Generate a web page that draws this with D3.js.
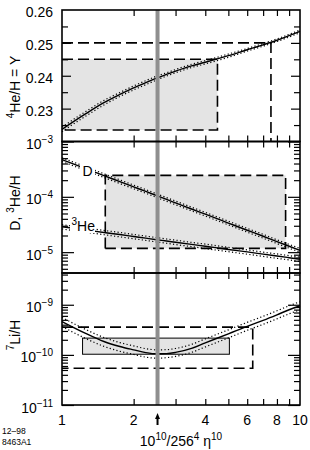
<!DOCTYPE html>
<html>
<head>
<meta charset="utf-8">
<script src="https://cdn.jsdelivr.net/npm/d3@7"></script>
<style>
body { margin: 0; background: #fff; }
svg { display: block; font-family: "Liberation Sans", Arial, sans-serif; }
.tk path { display: none; }
.tk line { stroke: #000; stroke-width: 1.2; }
</style>
</head>
<body>
<div id="chart"></div>
<script>
// eta grid shared by all curves
const etaGrid = [1, 1.25, 1.5, 1.75, 2, 2.25, 2.5, 2.75, 3, 3.5, 4, 5, 6, 7, 8, 9, 10];

// 4He mass fraction Y
const he4Y   = [0.2237, 0.2283, 0.2318, 0.2343, 0.2363, 0.2379, 0.2393, 0.2404, 0.2414, 0.2430, 0.2441, 0.2461, 0.2479, 0.2494, 0.2508, 0.2522, 0.2535];
const he4Hi  = [0.2244, 0.2290, 0.2325, 0.2349, 0.2369, 0.2385, 0.2399, 0.2409, 0.2419, 0.2435, 0.2446, 0.2466, 0.2483, 0.2498, 0.2512, 0.2526, 0.2539];
const he4Lo  = [0.2230, 0.2276, 0.2311, 0.2337, 0.2357, 0.2373, 0.2387, 0.2399, 0.2409, 0.2425, 0.2436, 0.2456, 0.2475, 0.2490, 0.2504, 0.2518, 0.2531];

// D/H
const dH   = [4.71e-4, 3.27e-4, 2.42e-4, 1.88e-4, 1.51e-4, 1.25e-4, 1.05e-4, 8.96e-5, 7.77e-5, 6.03e-5, 4.85e-5, 3.36e-5, 2.49e-5, 1.94e-5, 1.55e-5, 1.28e-5, 1.08e-5];
const dHi  = [5.09e-4, 3.53e-4, 2.61e-4, 2.03e-4, 1.63e-4, 1.35e-4, 1.13e-4, 9.68e-5, 8.39e-5, 6.51e-5, 5.24e-5, 3.63e-5, 2.69e-5, 2.10e-5, 1.67e-5, 1.38e-5, 1.17e-5];
const dLo  = [4.36e-4, 3.02e-4, 2.24e-4, 1.74e-4, 1.40e-4, 1.16e-4, 9.71e-5, 8.29e-5, 7.19e-5, 5.58e-5, 4.49e-5, 3.11e-5, 2.30e-5, 1.79e-5, 1.43e-5, 1.18e-5, 1.00e-5];

// 3He/H
const he3  = [2.88e-5, 2.53e-5, 2.27e-5, 2.08e-5, 1.92e-5, 1.79e-5, 1.68e-5, 1.59e-5, 1.51e-5, 1.38e-5, 1.28e-5, 1.12e-5, 1.01e-5, 9.20e-6, 8.51e-6, 7.94e-6, 7.46e-6];
const he3Hi = [3.14e-5, 2.76e-5, 2.47e-5, 2.27e-5, 2.09e-5, 1.95e-5, 1.83e-5, 1.73e-5, 1.65e-5, 1.50e-5, 1.40e-5, 1.22e-5, 1.10e-5, 1.00e-5, 9.28e-6, 8.65e-6, 8.13e-6];
const he3Lo = [2.62e-5, 2.30e-5, 2.07e-5, 1.89e-5, 1.75e-5, 1.63e-5, 1.53e-5, 1.45e-5, 1.37e-5, 1.26e-5, 1.16e-5, 1.02e-5, 9.19e-6, 8.37e-6, 7.74e-6, 7.23e-6, 6.79e-6];

// 7Li/H
const li7   = [4.63e-10, 2.72e-10, 1.85e-10, 1.47e-10, 1.26e-10, 1.11e-10, 1.05e-10, 1.06e-10, 1.12e-10, 1.35e-10, 1.74e-10, 2.63e-10, 3.72e-10, 4.90e-10, 6.31e-10, 7.94e-10, 9.55e-10];
const li7Hi = [5.56e-10, 3.26e-10, 2.22e-10, 1.76e-10, 1.51e-10, 1.33e-10, 1.26e-10, 1.27e-10, 1.34e-10, 1.62e-10, 2.09e-10, 3.16e-10, 4.46e-10, 5.88e-10, 7.57e-10, 9.53e-10, 1.15e-9];
const li7Lo = [3.70e-10, 2.15e-10, 1.48e-10, 1.18e-10, 1.02e-10, 9.0e-11, 8.6e-11, 8.8e-11, 9.3e-11, 1.12e-10, 1.44e-10, 2.18e-10, 3.09e-10, 4.07e-10, 5.24e-10, 6.59e-10, 7.93e-10];

// observational boxes / limits
const he4BoxEta = [1, 4.5], he4BoxY = [0.2235, 0.245];
const he4LimEta = 7.55, he4LimY = 0.25;
const dBoxEta = [1.52, 8.7], dBoxY = [1.17e-5, 2.44e-4];
const liBoxEta = [1.22, 5.05], liBoxY = [1.03e-10, 2.16e-10];
const liLimEta = 6.33, liLimY = [5.42e-11, 3.58e-10];

const etaMark = 2.52;
const xTickLabels = [1, 2, 4, 6, 8, 10];
const xMinor = [2, 3, 4, 5, 6, 7, 8, 9];
const topLabels = [0.23, 0.24, 0.25, 0.26];
const topMajor = [0.23, 0.24, 0.25];
const topMinor = [0.225, 0.235, 0.245, 0.255];
const midExps = [-3, -4, -5];
const botExps = [-9, -10, -11];

const W = 310, H = 450;
const L = 62, R = 300;
const svg = d3.select('#chart').append('svg').attr('width', W).attr('height', H);

const x = d3.scaleLog().domain([1, 10]).range([L, R]);
const yTop = d3.scaleLinear().domain([0.22, 0.26]).range([141.5, 10]);
const yMid = d3.scaleLog().domain([4.2e-6, 1e-3]).range([273, 141.5]);
const yBot = d3.scaleLog().domain([1e-11, 4.3e-9]).range([405, 273]);

const logMinor = (scale) => {
    const [a, b] = scale.domain();
    const out = [];
    for (let e = Math.floor(Math.log10(a)); e <= Math.ceil(Math.log10(b)); e++) {
        for (let m = 2; m <= 9; m++) {
            const v = m * Math.pow(10, e);
            if (v > a && v < b) out.push(v);
        }
    }
    return out;
};
const logMajor = (scale) => {
    const [a, b] = scale.domain();
    const out = [];
    for (let e = Math.ceil(Math.log10(a)); e <= Math.floor(Math.log10(b)); e++) out.push(Math.pow(10, e));
    return out;
};

const fills = svg.append('g');
const lines = svg.append('g');
const over = svg.append('g');

const dash = (pts, y) => lines.append('path')
    .attr('d', d3.line().x(p => x(p[0])).y(p => y(p[1]))(pts))
    .attr('fill', 'none').attr('stroke', '#000')
    .attr('stroke-width', 1.6).attr('stroke-dasharray', '11,5');

const curve = (vals, y, kind) => lines.append('path')
    .datum(vals)
    .attr('d', d3.line().x((d, i) => x(etaGrid[i])).y(d => y(d)).curve(d3.curveMonotoneX))
    .attr('fill', 'none').attr('stroke', '#000')
    .attr('stroke-width', kind === 'dot' ? 1.2 : 1.4)
    .attr('stroke-dasharray', kind === 'dot' ? '1.2,2.3' : null);

// ---- top panel: 4He
fills.append('rect')
    .attr('x', x(he4BoxEta[0])).attr('y', yTop(he4BoxY[1]))
    .attr('width', x(he4BoxEta[1]) - x(he4BoxEta[0]))
    .attr('height', yTop(he4BoxY[0]) - yTop(he4BoxY[1]))
    .attr('fill', '#e4e4e4');
dash([[1, he4LimY], [he4LimEta, he4LimY], [he4LimEta, 0.22]], yTop);
dash([[1, he4BoxY[1]], [he4BoxEta[1], he4BoxY[1]], [he4BoxEta[1], he4BoxY[0]], [1, he4BoxY[0]]], yTop);
curve(he4Hi, yTop, 'dot');
curve(he4Lo, yTop, 'dot');
curve(he4Y, yTop, 'solid');

// ---- middle panel: D and 3He
fills.append('rect')
    .attr('x', x(dBoxEta[0])).attr('y', yMid(dBoxY[1]))
    .attr('width', x(dBoxEta[1]) - x(dBoxEta[0]))
    .attr('height', yMid(dBoxY[0]) - yMid(dBoxY[1]))
    .attr('fill', '#e4e4e4');
dash([[dBoxEta[0], dBoxY[0]], [dBoxEta[0], dBoxY[1]], [dBoxEta[1], dBoxY[1]], [dBoxEta[1], dBoxY[0]], [dBoxEta[0], dBoxY[0]]], yMid);
[dHi, dLo, he3Hi, he3Lo].forEach(v => curve(v, yMid, 'dot'));
curve(dH, yMid, 'solid');
curve(he3, yMid, 'solid');

// ---- bottom panel: 7Li
fills.append('rect')
    .attr('x', x(liBoxEta[0])).attr('y', yBot(liBoxY[1]))
    .attr('width', x(liBoxEta[1]) - x(liBoxEta[0]))
    .attr('height', yBot(liBoxY[0]) - yBot(liBoxY[1]))
    .attr('fill', '#e4e4e4').attr('stroke', '#000').attr('stroke-width', 1);
dash([[1, liLimY[1]], [liLimEta, liLimY[1]], [liLimEta, liLimY[0]], [1, liLimY[0]]], yBot);
curve(li7Hi, yBot, 'dot');
curve(li7Lo, yBot, 'dot');
curve(li7, yBot, 'solid');

// curve labels with a blank gap in the lines
over.append('rect').attr('x', 80).attr('y', 163).attr('width', 15).attr('height', 16).attr('fill', '#fff');
over.append('text').attr('x', 82.5).attr('y', 176).attr('font-size', 14).text('D');
over.append('rect').attr('x', 70).attr('y', 214).attr('width', 25).attr('height', 19).attr('fill', '#fff');
const he3Lab = over.append('text').attr('x', 71.5).attr('y', 231).attr('font-size', 14);
he3Lab.append('tspan').attr('font-size', 10).attr('dy', -6).text('3');
he3Lab.append('tspan').attr('dy', 6).text('He');

// eta marker band
over.append('rect')
    .attr('x', x(etaMark) - 2).attr('y', 10)
    .attr('width', 4).attr('height', 395)
    .attr('fill', '#8f8f8f');

// ---- axes, ticks, frames
const panels = [
    { y: yTop, top: 10, bot: 141.5 },
    { y: yMid, top: 141.5, bot: 273 },
    { y: yBot, top: 273, bot: 405 }
];
const ax = svg.append('g');
panels.forEach((p, i) => {
    const major = i === 0 ? topMajor : logMajor(p.y);
    const minor = i === 0 ? topMinor : logMinor(p.y);
    const mLen = i === 0 ? 9 : 12;
    ax.append('g').attr('class', 'tk').attr('transform', `translate(${L},0)`)
        .call(d3.axisLeft(p.y).tickValues(major).tickSize(-mLen).tickFormat(''));
    ax.append('g').attr('class', 'tk').attr('transform', `translate(${L},0)`)
        .call(d3.axisLeft(p.y).tickValues(minor).tickSize(-6).tickFormat(''));
    ax.append('g').attr('class', 'tk').attr('transform', `translate(${R},0)`)
        .call(d3.axisRight(p.y).tickValues(major).tickSize(-mLen).tickFormat(''));
    ax.append('g').attr('class', 'tk').attr('transform', `translate(${R},0)`)
        .call(d3.axisRight(p.y).tickValues(minor).tickSize(-6).tickFormat(''));
    ax.append('g').attr('class', 'tk').attr('transform', `translate(0,${p.top})`)
        .call(d3.axisTop(x).tickValues(xMinor).tickSize(-6).tickFormat(''));
    ax.append('g').attr('class', 'tk').attr('transform', `translate(0,${p.bot})`)
        .call(d3.axisBottom(x).tickValues(xMinor).tickSize(-6).tickFormat(''));
    ax.append('rect')
        .attr('x', L).attr('y', p.top).attr('width', R - L).attr('height', p.bot - p.top)
        .attr('fill', 'none').attr('stroke', '#000').attr('stroke-width', 1.6);
});

// y tick labels
const lab = svg.append('g').attr('font-size', 14).attr('text-anchor', 'end');
topLabels.forEach(v => lab.append('text').attr('x', 53).attr('y', yTop(v) + 7).text(v.toFixed(2)));
const sci = (y, e) => {
    const t = lab.append('text').attr('x', 53).attr('y', y + 7.5);
    t.append('tspan').text('10');
    t.append('tspan').attr('font-size', 10).attr('dy', -6).text('\u2212' + Math.abs(e));
};
midExps.forEach(e => sci(yMid(Math.pow(10, e)), e));
botExps.forEach(e => sci(yBot(Math.pow(10, e)), e));

// x tick labels
svg.append('g').attr('font-size', 14).attr('text-anchor', 'middle')
    .selectAll('text').data(xTickLabels).join('text')
    .attr('x', d => x(d)).attr('y', 425).text(d => d);

// x title
const xt = svg.append('text').attr('x', 181).attr('y', 446)
    .attr('font-size', 14).attr('text-anchor', 'middle');
xt.append('tspan').text('10');
xt.append('tspan').attr('font-size', 10).attr('dy', -6).text('10');
xt.append('tspan').attr('dy', 6).text('/256');
xt.append('tspan').attr('font-size', 10).attr('dy', -6).text('4');
xt.append('tspan').attr('dy', 6).text(' \u03B7');
xt.append('tspan').attr('font-size', 10).attr('dy', -6).text('10');

// arrow at eta marker
const xa = x(etaMark);
svg.append('line').attr('x1', xa).attr('x2', xa).attr('y1', 425).attr('y2', 418)
    .attr('stroke', '#000').attr('stroke-width', 2);
svg.append('path').attr('d', `M${xa - 2.5},419 L${xa},413 L${xa + 2.5},419 Z`).attr('fill', '#000');

// y titles
const ytitle = (cy, parts) => {
    const t = svg.append('text').attr('transform', `translate(20,${cy}) rotate(-90)`)
        .attr('font-size', 14).attr('text-anchor', 'middle');
    parts.forEach(p => {
        const s = t.append('tspan').text(p[0]);
        if (p[1]) s.attr('font-size', 10).attr('dy', -6);
        if (p[2]) s.attr('dy', 6);
    });
};
ytitle(87, [['4', true], ['He/H = Y', false, true]]);
ytitle(203, [['D, ', false], ['3', true], ['He/H', false, true]]);
ytitle(335, [['7', true], ['Li/H', false, true]]);

// plate id
svg.append('text').attr('x', 2).attr('y', 434).attr('font-size', 8.5).text('12\u201398');
svg.append('text').attr('x', 2).attr('y', 445).attr('font-size', 8.5).text('8463A1');
</script>
</body>
</html>
